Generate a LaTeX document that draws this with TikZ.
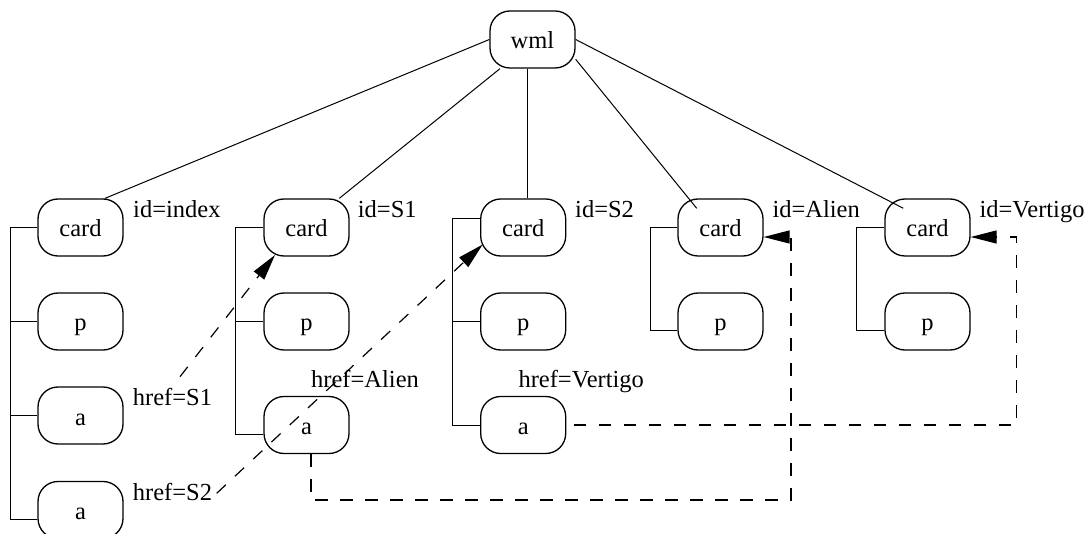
\documentclass[tikz,border=0pt]{standalone}
\usepackage{fontspec}
\setmainfont{Liberation Serif}
\usetikzlibrary{arrows.meta}
\tikzset{
  box/.style={draw, line width=1.3pt, rounded corners=20pt, minimum width=85pt, minimum height=57pt, inner sep=0pt, text height=19pt, text depth=0pt, font=\fontsize{24.5pt}{29pt}\selectfont},
  lbl/.style={anchor=base west, inner sep=0pt, font=\fontsize{24.5pt}{29pt}\selectfont},
  tree/.style={line width=1pt},
  link/.style={line width=1.2pt, dash pattern=on 12.5pt off 12.5pt, -{Triangle[length=26pt,width=13pt]}},
}
\begin{document}
\begin{tikzpicture}[x=1pt,y=-1pt]
\useasboundingbox (0,0) rectangle (1092,534);
% nodes
\node[box] (wml) at (532.5,39.5) {wml};
\node[box] (c1) at (80.5,227.5) {card};
\node[box] (p1) at (80.5,321.5) {p};
\node[box] (a11) at (80.5,415.5) {a};
\node[box] (a12) at (80.5,510) {a};
\node[box] (c2) at (306.5,227.5) {card};
\node[box] (p2) at (306.5,321.5) {p};
\node[box] (a2) at (306.5,425) {a};
\node[box] (c3) at (523.2,227.5) {card};
\node[box] (p3) at (523.2,321.5) {p};
\node[box] (a3) at (523.2,425) {a};
\node[box] (c4) at (720.5,227.5) {card};
\node[box] (p4) at (720.5,321.5) {p};
\node[box] (c5) at (927.5,227.5) {card};
\node[box] (p5) at (927.5,321.5) {p};
% labels
\node[lbl] (l1) at (133,218) {id=index};
\node[lbl] (l2) at (357.7,218) {id=S1};
\node[lbl] (l3) at (575,218) {id=S2};
\node[lbl] (l4) at (772.3,218) {id=Alien};
\node[lbl] (l5) at (979.3,218) {id=Vertigo};
\node[lbl] (h1) at (132.7,406) {href=S1};
\node[lbl] (h2) at (132.7,500) {href=S2};
\node[lbl] (h3) at (311,387.3) {href=Alien};
\node[lbl] (h4) at (518.3,387.3) {href=Vertigo};
% trunk coordinates
\coordinate (t1) at (10,0);
\coordinate (t2) at (235.7,0);
\coordinate (t3) at (452,0);
\coordinate (t4) at (650,0);
\coordinate (t5) at (856.7,0);
% wml edges
\draw[tree] (wml.west) -- ([xshift=24.5pt]c1.north);
\draw[tree] ([xshift=-32.5pt]wml.south) -- ([xshift=32.8pt]c2.north);
\draw[tree] ([xshift=-4.8pt]wml.south) -- ([xshift=4.5pt]c3.north);
\draw[tree] ([yshift=-19.8pt]wml.east) -- ([xshift=-23.8pt,yshift=19.2pt]c4.center);
\draw[tree] (wml.east) -- ([xshift=-24.2pt,yshift=19.2pt]c5.center);
% column 1
\draw[tree] (c1.west) -| ([yshift=-9pt]a12.west -| t1) -- ([yshift=-9pt]a12.west);
\draw[tree] (p1.west -| t1) -- (p1.west);
\draw[tree] (a11.west -| t1) -- (a11.west);
% column 2
\draw[tree] (c2.west) -| ([yshift=-9.3pt]a2.west -| t2) -- ([yshift=-9.3pt]a2.west);
\draw[tree] (p2.west -| t2) -- (p2.west);
% column 3
\draw[tree] ([yshift=9.2pt]c3.west) -| (a3.west -| t3) -- (a3.west);
\draw[tree] (p3.west -| t3) -- (p3.west);
% column 4
\draw[tree] (c4.west) -| ([yshift=-9.5pt]p4.west -| t4) -- ([yshift=-9.5pt]p4.west);
% column 5
\draw[tree] (c5.west) -| ([yshift=-9.5pt]p5.west -| t5) -- ([yshift=-9.5pt]p5.west);
% links
\coordinate (s1) at (180,376.7);
\coordinate (s2) at (216.7,493.3);
\draw[link] (s1) -- ([xshift=-31.5pt,yshift=-27.5pt]c2.center);
\draw[link] (s2) -- ([xshift=-40.5pt,yshift=-17pt]c3.center);
\coordinate (r3) at (791,500);
\coordinate (r4) at (1016.7,425);
\draw[link] ([xshift=4.5pt]a2.south) |- (r3) |- ([yshift=-9.5pt]c4.east);
\draw[link] ([xshift=7.6pt]a3.east) -- (r4) |- ([yshift=-9.5pt]c5.east);
\end{tikzpicture}
\end{document}
